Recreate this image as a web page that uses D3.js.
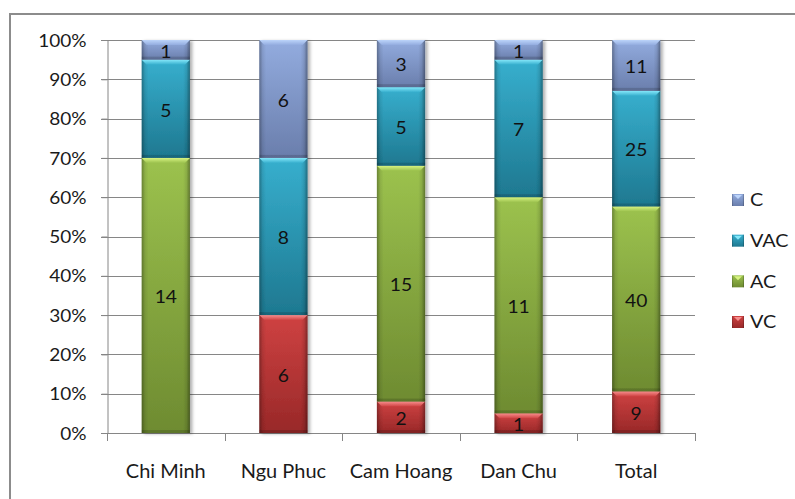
<!DOCTYPE html>
<html>
<head>
<meta charset="utf-8">
<script src="https://cdn.jsdelivr.net/npm/d3@7"></script>
<style>
  html, body { margin: 0; padding: 0; background: #fff; }
  svg { display: block; font-family: Lato, "Open Sans", sans-serif; }
</style>
</head>
<body>
<svg id="chart" width="795" height="499"></svg>
<script>
// Villages and the counts of each garden model type
const categories = ["Chi Minh", "Ngu Phuc", "Cam Hoang", "Dan Chu", "Total"];
const seriesKeys = ["VC", "AC", "VAC", "C"];
const VC  = [0, 6, 2, 1, 9];
const AC  = [14, 0, 15, 11, 40];
const VAC = [5, 8, 5, 7, 25];
const C   = [1, 6, 3, 1, 11];
const yTicks = [0, 0.1, 0.2, 0.3, 0.4, 0.5, 0.6, 0.7, 0.8, 0.9, 1];

// Shading per series: top colour, bottom colour, bevel highlight
const palette = {
  C:   { top: "#93ACDF", bottom: "#6A7EAC", hi: "#BCD4FA" },
  VAC: { top: "#37AFCE", bottom: "#1E7890", hi: "#86E8FA" },
  AC:  { top: "#9CC24E", bottom: "#6E8B31", hi: "#D8F482" },
  VC:  { top: "#CF4242", bottom: "#982828", hi: "#F78E8E" }
};

const rows = categories.map((c, i) => ({ cat: c, VC: VC[i], AC: AC[i], VAC: VAC[i], C: C[i] }));
const stacked = d3.stack().keys(seriesKeys).offset(d3.stackOffsetExpand)(rows);

const svg = d3.select("#chart");
const plot = { left: 107, right: 695, top: 40, bottom: 433 };

const x = d3.scaleBand().domain(categories).range([plot.left, plot.right]).padding(0);
const y = d3.scaleLinear().domain([0, 1]).range([plot.bottom, plot.top]);
const barW = x.bandwidth() * 0.41;

// Horizontal scaling applied to text to get the wide Calibri-like look
function stretch(sel, sx) {
  sel.each(function () {
    const t = d3.select(this);
    const tx = +t.attr("x") || 0;
    const ty = +t.attr("y") || 0;
    t.attr("x", 0).attr("y", 0).attr("transform", `translate(${tx},${ty}) scale(${sx},1)`);
  });
}

// ---- gradients and filters
const defs = svg.append("defs");
seriesKeys.forEach(k => {
  const p = palette[k];
  const g = defs.append("linearGradient").attr("id", "fill-" + k)
    .attr("x1", 0).attr("y1", 0).attr("x2", 0).attr("y2", 1);
  g.append("stop").attr("offset", 0).attr("stop-color", p.top);
  g.append("stop").attr("offset", 1).attr("stop-color", p.bottom);
  const h = defs.append("linearGradient").attr("id", "hi-" + k)
    .attr("x1", 0).attr("y1", 0).attr("x2", 0).attr("y2", 1);
  h.append("stop").attr("offset", 0).attr("stop-color", p.hi);
  h.append("stop").attr("offset", 1).attr("stop-color", p.top);
});
const edge = defs.append("linearGradient").attr("id", "edge")
  .attr("x1", 0).attr("y1", 0).attr("x2", 1).attr("y2", 0);
[[0, 0.32], [0.07, 0.08], [0.14, 0], [0.86, 0], [0.93, 0.1], [1, 0.38]].forEach(([o, a]) =>
  edge.append("stop").attr("offset", o).attr("stop-color", "#000").attr("stop-opacity", a));
const shadow = defs.append("filter").attr("id", "shadow")
  .attr("x", "-20%").attr("y", "-5%").attr("width", "150%").attr("height", "115%");
shadow.append("feDropShadow").attr("dx", 2.5).attr("dy", 1).attr("stdDeviation", 1.6)
  .attr("flood-color", "#000").attr("flood-opacity", 0.3);

// ---- outer chart frame
svg.append("rect").attr("x", 10).attr("y", 14).attr("width", 800).attr("height", 500)
  .attr("fill", "none").attr("stroke", "#8c8c8c").attr("stroke-width", 2);

// ---- gridlines
svg.append("g").selectAll("line").data(yTicks).join("line")
  .attr("x1", plot.left - 6).attr("x2", plot.right)
  .attr("y1", d => Math.round(y(d)) + 0.5).attr("y2", d => Math.round(y(d)) + 0.5)
  .attr("stroke", "#868686").attr("stroke-width", 1);

// ---- y axis
const yAxis = svg.append("g").attr("transform", `translate(${plot.left + 0.5},0)`)
  .call(d3.axisLeft(y).tickValues(yTicks).tickFormat(d3.format(".0%")).tickSize(6).tickPadding(15));
yAxis.selectAll("path, line").attr("stroke", "#868686");
yAxis.selectAll("text").attr("font-size", 17).attr("fill", "#1a1a1a")
  .attr("font-family", "Lato, sans-serif").attr("dy", "0.36em");
stretch(yAxis.selectAll("text"), 1.12);

// ---- x axis: baseline, boundary ticks, category labels
const xg = svg.append("g");
xg.append("line").attr("x1", plot.left - 6).attr("x2", plot.right)
  .attr("y1", plot.bottom + 0.5).attr("y2", plot.bottom + 0.5).attr("stroke", "#868686");
const bounds = categories.map(c => x(c)).concat([x(categories[categories.length - 1]) + x.bandwidth()]);
xg.selectAll("line.tick").data(bounds).join("line").attr("class", "tick")
  .attr("x1", d => Math.round(d) + 0.5).attr("x2", d => Math.round(d) + 0.5)
  .attr("y1", plot.bottom).attr("y2", plot.bottom + 8).attr("stroke", "#868686");
xg.selectAll("text.cat").data(categories).join("text").attr("class", "cat")
  .attr("x", d => x(d) + x.bandwidth() / 2).attr("y", 478)
  .attr("text-anchor", "middle").attr("font-size", 18.5).attr("fill", "#1a1a1a")
  .text(d => d);
stretch(xg.selectAll("text.cat"), 1.08);

// ---- bars
const barsG = svg.append("g");
const segs = [];
stacked.forEach(layer => {
  layer.forEach((d, i) => {
    const v = rows[i][layer.key];
    if (v > 0) segs.push({ key: layer.key, cat: categories[i], y0: d[0], y1: d[1], value: v });
  });
});

const catGroups = barsG.selectAll("g.bar").data(categories).join("g").attr("class", "bar")
  .attr("filter", "url(#shadow)");

catGroups.each(function (cat) {
  const g = d3.select(this);
  const x0 = x(cat) + (x.bandwidth() - barW) / 2;
  segs.filter(s => s.cat === cat).forEach(s => {
    const top = y(s.y1), bot = y(s.y0), h = bot - top;
    g.append("rect").attr("x", x0).attr("y", top).attr("width", barW).attr("height", h)
      .attr("fill", `url(#fill-${s.key})`);
    g.append("rect").attr("x", x0).attr("y", top).attr("width", barW).attr("height", h)
      .attr("fill", "url(#edge)");
    // darker band at the foot of the segment
    g.append("rect").attr("x", x0).attr("y", bot - Math.min(3, h / 4)).attr("width", barW)
      .attr("height", Math.min(3, h / 4)).attr("fill", "#000").attr("opacity", 0.15);
    // bevelled highlight along the top edge
    const b = Math.min(5, h / 3);
    g.append("polygon")
      .attr("points", [[x0, top], [x0 + barW, top], [x0 + barW - b, top + b], [x0 + b, top + b]].join(" "))
      .attr("fill", `url(#hi-${s.key})`);
  });
});

// ---- value labels inside segments
svg.append("g").selectAll("text").data(segs).join("text")
  .attr("x", d => x(d.cat) + x.bandwidth() / 2)
  .attr("y", d => (y(d.y0) + y(d.y1)) / 2 + 1.5)
  .attr("dy", "0.36em").attr("text-anchor", "middle")
  .attr("font-size", 17.5).attr("fill", "#111")
  .text(d => d.value)
  .call(sel => stretch(sel, 1.1));

// ---- legend
const legendKeys = ["C", "VAC", "AC", "VC"];
const legendY = d3.scalePoint().domain(legendKeys).range([200, 322]);
const lg = svg.append("g").selectAll("g").data(legendKeys).join("g")
  .attr("transform", d => `translate(732,${legendY(d)})`);
lg.append("rect").attr("x", 0).attr("y", -6).attr("width", 12).attr("height", 12)
  .attr("fill", d => `url(#fill-${d})`);
lg.append("rect").attr("x", 0).attr("y", -6).attr("width", 12).attr("height", 12)
  .attr("fill", "url(#edge)");
lg.append("polygon").attr("points", "2,-5 10,-5 6,-1").attr("fill", d => palette[d].hi);
lg.append("text").attr("x", 18).attr("y", 0).attr("dy", "0.36em")
  .attr("font-size", 18).attr("fill", "#1a1a1a").text(d => d)
  .call(sel => stretch(sel, 1.1));
</script>
</body>
</html>
